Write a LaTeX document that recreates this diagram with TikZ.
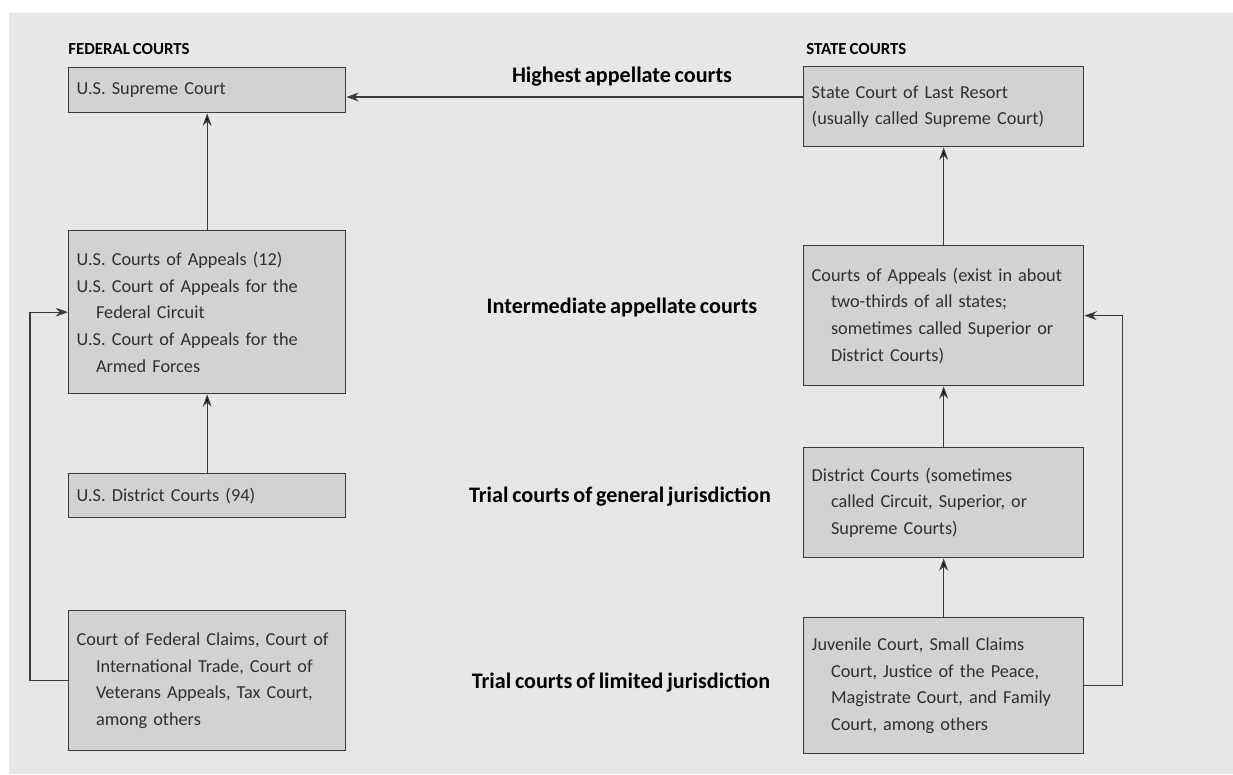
\documentclass[tikz,border=0pt]{standalone}
\usepackage{fontspec}
\setmainfont{Carlito}[WordSpace=0.75]
\usetikzlibrary{arrows.meta}
\definecolor{bggray}{HTML}{E6E7E9}
\definecolor{boxgray}{HTML}{D1D2D4}
\definecolor{linegray}{HTML}{3A3A3A}
\definecolor{textgray}{HTML}{303030}
\newcommand{\hind}{\hspace*{11pt}}

\begin{document}
\begin{tikzpicture}[x=0.02cm,y=-0.02cm,
  court/.style={draw=linegray,fill=boxgray,line width=0.8pt,anchor=north west,align=left,
    inner xsep=0.16cm,inner ysep=0pt,text=textgray,font=\fontsize{10.4}{15.2}\selectfont},
  fed/.style={court,text width=5.22cm,minimum width=5.54cm},
  st/.style={court,text width=5.28cm,minimum width=5.6cm},
  head/.style={anchor=base west,inner sep=0pt,font=\bfseries\fontsize{9.6}{11}\selectfont},
  level/.style={anchor=base,inner sep=0pt,font=\bfseries\fontsize{12.6}{14}\selectfont},
  arr/.style={-{Stealth[length=7pt,width=5pt]},line width=0.7pt,draw=linegray}]
  \useasboundingbox (0,0) rectangle (1233,774);
  \fill[bggray] (9,13) rectangle (1233,774);
  % headings
  \node[head] (h_fed) at (68,54) {FEDERAL COURTS};
  \node[head] (h_st) at (806,54) {STATE COURTS};
  % federal side
  \node[fed,minimum height=0.9cm] (f_sup) at (68,67) {U.S. Supreme Court};
  \node[fed,minimum height=3.26cm] (f_app) at (68,230) {U.S. Courts of Appeals (12)\\U.S. Court of Appeals for the\\\hind Federal Circuit\\U.S. Court of Appeals for the\\\hind Armed Forces};
  \node[fed,minimum height=0.88cm] (f_dist) at (68,473) {U.S. District Courts (94)};
  \node[fed,minimum height=2.8cm] (f_lim) at (68,610) {Court of Federal Claims, Court of\\\hind International Trade, Court of\\\hind Veterans Appeals, Tax Court,\\\hind among others};
  % state side
  \node[st,minimum height=1.6cm] (s_last) at (803,66) {State Court of Last Resort\\(usually called Supreme Court)};
  \node[st,minimum height=2.8cm] (s_app) at (803,245) {Courts of Appeals (exist in about\\\hind two-thirds of all states;\\\hind sometimes called Superior or\\\hind District Courts)};
  \node[st,minimum height=2.2cm] (s_dist) at (803,447) {District Courts (sometimes\\\hind called Circuit, Superior, or\\\hind Supreme Courts)};
  \node[st,minimum height=2.72cm] (s_lim) at (803,617) {Juvenile Court, Small Claims\\\hind Court, Justice of the Peace,\\\hind Magistrate Court, and Family\\\hind Court, among others};
  % levels
  \node[level] (l_high) at (622,82) {Highest appellate courts};
  \node[level] (l_mid) at (622,313) {Intermediate appellate courts};
  \node[level] (l_gen) at (620,502) {Trial courts of general jurisdiction};
  \node[level] (l_lim) at (621,688) {Trial courts of limited jurisdiction};
  % appeals
  \coordinate (hi) at (0,97);
  \draw[arr] (s_last.west |- hi) -- (f_sup.east |- hi);
  \path[arr]
  (f_app) edge (f_sup)
  (f_dist) edge (f_app)
  (s_app) edge (s_last)
  (s_dist) edge (s_app)
  (s_lim) edge (s_dist);
  \draw[arr] (f_lim.west) -- ++(-38,0) |- (f_app.west);
  \draw[arr] (s_lim.east) -- ++(38,0) |- (s_app.east);
\end{tikzpicture}
\end{document}
